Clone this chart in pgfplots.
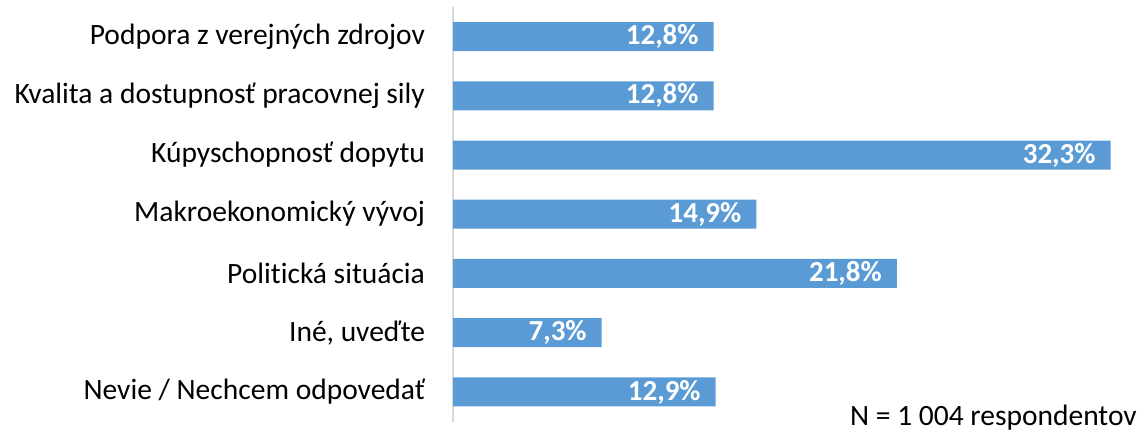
\documentclass[border=0pt]{standalone}
\usepackage{pgfplots}
\pgfplotsset{compat=1.18}
\usepackage{fontspec}
\setmainfont{Carlito}[Ligatures=NoCommon]
\definecolor{barblue}{HTML}{5B9BD5}
\definecolor{axgray}{HTML}{D9D9D9}
\begin{document}
\begin{tikzpicture}[x=1pt,y=1pt]
\fontsize{29.5}{34}\selectfont
\path[use as bounding box] (0,0) rectangle (1143,435);
\begin{axis}[
  at={(453pt,13.4pt)}, anchor=south west,
  scale only axis,
  width=682pt, height=414.7pt,
  xmin=0, xmax=33.5,
  ymin=-0.5, ymax=6.5,
  y dir=reverse,
  xbar, bar width=29pt,
  axis x line=none,
  axis y line*=left,
  y axis line style={draw=axgray, line width=1.5pt, -},
  ytick={0,1,2,3,4,5,6},
  yticklabels={Podpora z verejných zdrojov,Kvalita a dostupnosť pracovnej sily,Kúpyschopnosť dopytu,Makroekonomický vývoj,Politická situácia,{Iné, uveďte},Nevie / Nechcem odpovedať},
  yticklabel style={font=\fontsize{29.5}{34}\selectfont, anchor=east, xshift=-18pt, text=black},
  major tick length=0pt,
  point meta=explicit symbolic,
  nodes near coords,
  nodes near coords style={font=\fontsize{29}{34}\selectfont\bfseries, text=white, anchor=east, xshift=-5pt},
  clip=false,
]
\addplot[fill=barblue, draw=none] coordinates {
 (12.8,0) [12,8\%]
 (12.8,1) [12,8\%]
 (32.3,2) [32,3\%]
 (14.9,3) [14,9\%]
 (21.8,4) [21,8\%]
 (7.3,5) [7,3\%]
 (12.9,6) [12,9\%]
};
\end{axis}
\node[anchor=east, inner sep=0pt] at (1137,17) {N = 1 004 respondentov};
\end{tikzpicture}
\end{document}
